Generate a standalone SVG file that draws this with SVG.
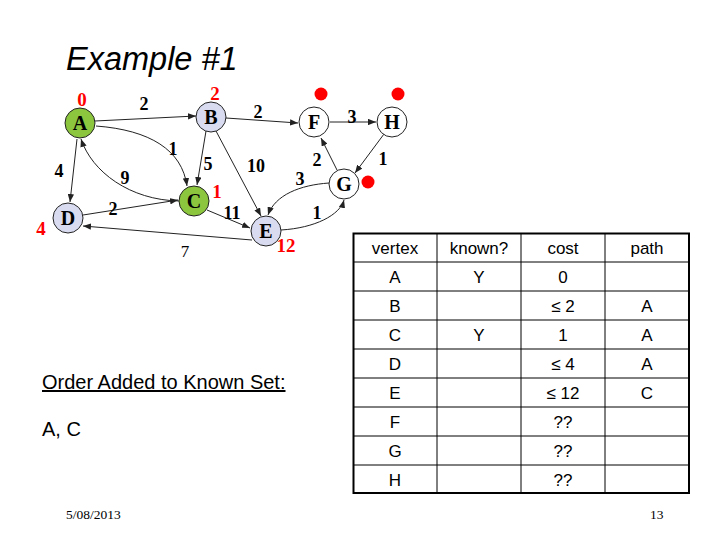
<svg xmlns="http://www.w3.org/2000/svg" width="720" height="540" viewBox="0 0 720 540">
<style>
.node circle{stroke:#222;stroke-width:1}
.known{fill:#8CC63F}
.unk{fill:#D9DCF1}
.plain{fill:#fff}
.nl{font-family:"Liberation Serif",serif;font-weight:bold;font-size:20px;text-anchor:middle}
.w{font-family:"Liberation Serif",serif;font-weight:bold;font-size:18px;text-anchor:middle;fill:#000}
.red{font-family:"Liberation Serif",serif;font-weight:bold;font-size:19px;text-anchor:middle;fill:#f00}
.edge{fill:none;stroke:#222;stroke-width:1;marker-end:url(#ah)}
.t{font-family:"Liberation Sans",Arial,sans-serif;font-size:17px;text-anchor:middle}
.grid{stroke:#000;stroke-width:1}
.ft{font-family:"Liberation Serif",serif;font-size:13.5px}
</style>
<defs>
<marker id="ah" viewBox="0 0 10 8" refX="10" refY="4" markerWidth="8" markerHeight="6.5" orient="auto" markerUnits="userSpaceOnUse">
<path d="M0,0 L10,4 L0,8 z" fill="#222"/>
</marker>
</defs>
<rect width="720" height="540" fill="#fff"/>
<text x="66" y="70" font-family="Liberation Sans,Arial,sans-serif" font-style="italic" font-size="32.5">Example #1</text>

<g id="connectors">
<line class="edge" x1="95" y1="121" x2="196" y2="116"/>
<path class="edge" d="M96,126 C150,130 182,150 187,186"/>
<line class="edge" x1="77" y1="139" x2="70" y2="202"/>
<path class="edge" d="M179,201 C130,200 92,172 81,139"/>
<line class="edge" x1="206" y1="131" x2="197" y2="185"/>
<line class="edge" x1="216" y1="131" x2="261" y2="216"/>
<line class="edge" x1="226" y1="118" x2="298" y2="123"/>
<line class="edge" x1="330" y1="122" x2="376" y2="122"/>
<line class="edge" x1="384" y1="134" x2="355" y2="173"/>
<line class="edge" x1="337" y1="170" x2="321" y2="138"/>
<path class="edge" d="M329,183 C300,185 275,195 268,215"/>
<path class="edge" d="M281,230 C315,228 340,215 344,200"/>
<line class="edge" x1="207" y1="210" x2="250" y2="228"/>
<line class="edge" x1="83" y1="215" x2="178" y2="200"/>
<line class="edge" x1="252" y1="240" x2="83" y2="226"/>
</g>

<g id="weights">
<text class="w" x="144" y="110">2</text>
<text class="w" x="258" y="118">2</text>
<text class="w" x="352" y="123">3</text>
<text class="w" x="173" y="155">1</text>
<text class="w" x="208" y="170">5</text>
<text class="w" x="256" y="172">10</text>
<text class="w" x="59" y="177">4</text>
<text class="w" x="125" y="184">9</text>
<text class="w" x="113" y="215">2</text>
<text class="w" x="232" y="219">11</text>
<text class="w" x="300" y="185">3</text>
<text class="w" x="317" y="166">2</text>
<text class="w" x="383" y="165">1</text>
<text class="w" x="317" y="219">1</text>
<text x="185" y="257" text-anchor="middle" font-family="Liberation Serif,serif" font-size="17">7</text>
</g>

<g id="node-A" class="node"><circle class="known" cx="80" cy="123" r="15"/><text class="nl" x="80" y="130">A</text></g>
<g id="node-B" class="node"><circle class="unk" cx="211" cy="117" r="15"/><text class="nl" x="211" y="124">B</text></g>
<g id="node-C" class="node"><circle class="known" cx="194" cy="201" r="15"/><text class="nl" x="194" y="208">C</text></g>
<g id="node-D" class="node"><circle class="unk" cx="68" cy="218" r="15"/><text class="nl" x="68" y="225">D</text></g>
<g id="node-E" class="node"><circle class="unk" cx="266" cy="231" r="15"/><text class="nl" x="266" y="238">E</text></g>
<g id="node-F" class="node"><circle class="plain" cx="314" cy="122" r="15"/><text class="nl" x="314" y="129">F</text></g>
<g id="node-H" class="node"><circle class="plain" cx="392" cy="122" r="15"/><text class="nl" x="392" y="129">H</text></g>
<g id="node-G" class="node"><circle class="plain" cx="344" cy="184" r="15"/><text class="nl" x="344" y="191">G</text></g>

<g id="costs">
<text class="red" x="82" y="106">0</text>
<text class="red" x="215" y="100">2</text>
<text class="red" x="217" y="198">1</text>
<text class="red" x="41" y="235">4</text>
<text class="red" x="286" y="252">12</text>
<circle cx="321" cy="94" r="6.5" fill="#f00"/>
<circle cx="398" cy="94" r="6.5" fill="#f00"/>
<circle cx="368" cy="182" r="6.5" fill="#f00"/>
</g>

<g id="table">
<g class="grid">
<line x1="437" y1="233" x2="437" y2="493"/>
<line x1="521" y1="233" x2="521" y2="493"/>
<line x1="605" y1="233" x2="605" y2="493"/>
<line x1="353" y1="262" x2="689" y2="262"/>
<line x1="353" y1="291" x2="689" y2="291"/>
<line x1="353" y1="320" x2="689" y2="320"/>
<line x1="353" y1="349" x2="689" y2="349"/>
<line x1="353" y1="378" x2="689" y2="378"/>
<line x1="353" y1="407" x2="689" y2="407"/>
<line x1="353" y1="436" x2="689" y2="436"/>
<line x1="353" y1="465" x2="689" y2="465"/>
</g>
<rect x="353.5" y="233.5" width="335.5" height="259.5" fill="none" stroke="#000" stroke-width="2"/>
<text class="t" x="395" y="254">vertex</text>
<text class="t" x="479" y="254">known?</text>
<text class="t" x="563" y="254">cost</text>
<text class="t" x="647" y="254">path</text>
<text class="t" x="395" y="283">A</text><text class="t" x="479" y="283">Y</text><text class="t" x="563" y="283">0</text>
<text class="t" x="395" y="312">B</text><text class="t" x="563" y="312">≤ 2</text><text class="t" x="647" y="312">A</text>
<text class="t" x="395" y="341">C</text><text class="t" x="479" y="341">Y</text><text class="t" x="563" y="341">1</text><text class="t" x="647" y="341">A</text>
<text class="t" x="395" y="370">D</text><text class="t" x="563" y="370">≤ 4</text><text class="t" x="647" y="370">A</text>
<text class="t" x="395" y="399">E</text><text class="t" x="563" y="399">≤ 12</text><text class="t" x="647" y="399">C</text>
<text class="t" x="395" y="428">F</text><text class="t" x="563" y="428">??</text>
<text class="t" x="395" y="457">G</text><text class="t" x="563" y="457">??</text>
<text class="t" x="395" y="486">H</text><text class="t" x="563" y="486">??</text>
</g>

<text x="42" y="389" font-family="Liberation Sans,Arial,sans-serif" font-size="20" text-decoration="underline">Order Added to Known Set:</text>
<text x="42" y="436" font-family="Liberation Sans,Arial,sans-serif" font-size="20">A, C</text>
<text class="ft" x="66" y="519">5/08/2013</text>
<text class="ft" x="650" y="519">13</text>
</svg>
